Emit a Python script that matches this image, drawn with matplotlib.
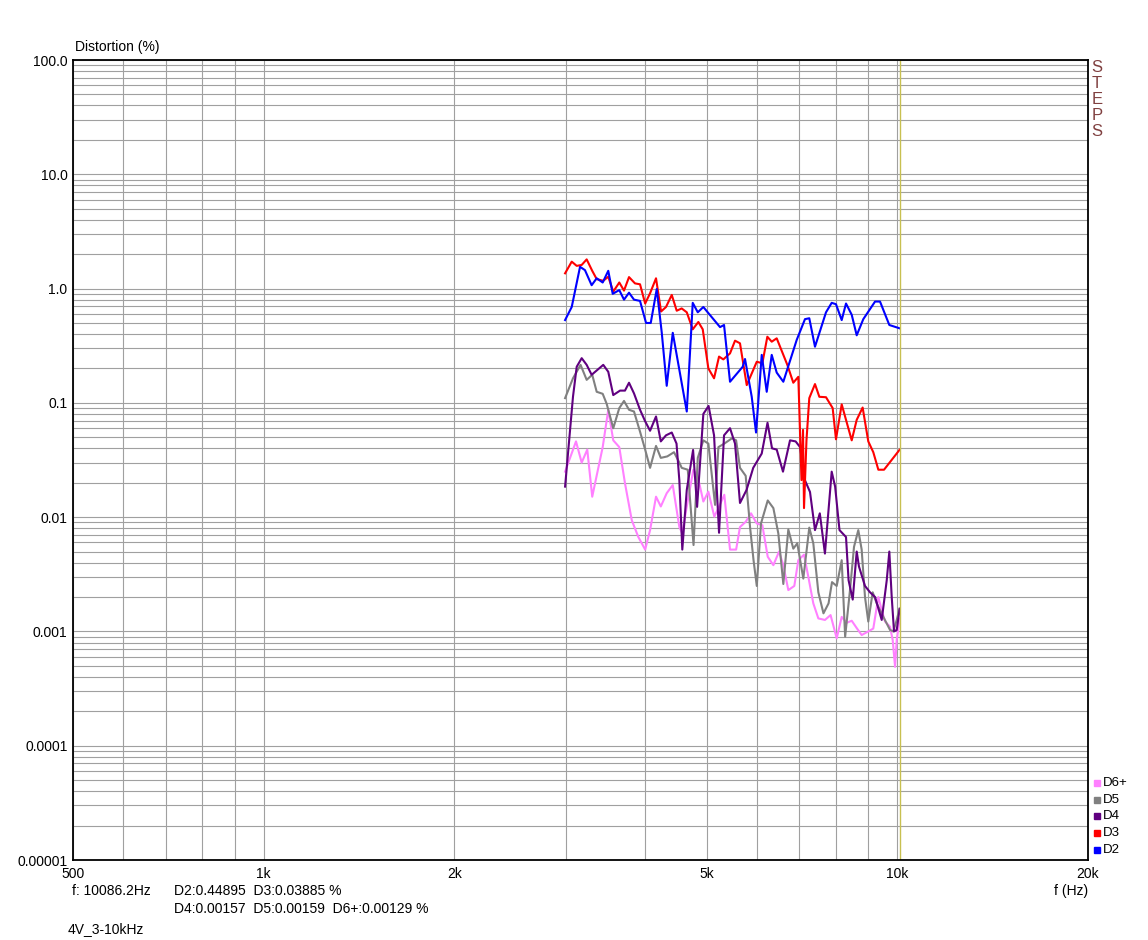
import matplotlib
matplotlib.use('Agg')
import matplotlib.pyplot as plt
from matplotlib.lines import Line2D
from matplotlib import rcParams
rcParams['font.family'] = ['Liberation Sans', 'DejaVu Sans']

W, H = 1148, 940

# harmonic distortion readings, f in Hz, level in %
d2_f = [2990, 3063, 3157, 3214, 3293, 3354, 3428, 3498, 3555, 3641, 3704, 3772, 3841, 3926,
        4013, 4082, 4172, 4249, 4326, 4422, 4653, 4755, 4843, 4942, 5033, 5251, 5328, 5445,
        5702, 5750, 5892, 5985, 6110, 6222, 6336, 6452, 6609, 6938, 7150, 7263, 7415, 7718,
        7879, 8003, 8171, 8300, 8474, 8629, 8838, 9224, 9392, 9715, 10086]
d2_v = [0.53, 0.69, 1.55, 1.45, 1.07, 1.23, 1.13, 1.43, 0.90, 0.97, 0.80, 0.92, 0.80, 0.78,
        0.50, 0.50, 0.99, 0.41, 0.141, 0.41, 0.084, 0.75, 0.62, 0.69, 0.61, 0.46, 0.48, 0.153,
        0.207, 0.242, 0.113, 0.055, 0.263, 0.125, 0.263, 0.184, 0.153, 0.355, 0.54, 0.55, 0.31, 0.62,
        0.75, 0.73, 0.53, 0.74, 0.59, 0.39, 0.54, 0.77, 0.77, 0.48, 0.449]

d3_f = [2990, 3063, 3119, 3176, 3234, 3300, 3354, 3435, 3498, 3562, 3641, 3704, 3772, 3855,
        3926, 4000, 4072, 4161, 4238, 4315, 4406, 4486, 4568, 4653, 4755, 4853, 4931, 5033,
        5138, 5232, 5314, 5445, 5545, 5646, 5786, 6001, 6124, 6236, 6336, 6452, 6706, 6853,
        6979, 7060, 7099, 7125, 7189, 7263, 7415, 7533, 7718, 7907, 8003, 8171, 8300, 8474,
        8629, 8817, 9000, 9165, 9335, 9530, 10086]
d3_v = [1.36, 1.72, 1.58, 1.61, 1.80, 1.43, 1.21, 1.17, 1.27, 0.94, 1.13, 0.96, 1.26, 1.11,
        1.09, 0.74, 0.91, 1.23, 0.63, 0.69, 0.88, 0.64, 0.67, 0.62, 0.44, 0.51, 0.44, 0.20,
        0.164, 0.254, 0.24, 0.271, 0.35, 0.332, 0.143, 0.229, 0.222, 0.379, 0.343, 0.367, 0.215, 0.15,
        0.169, 0.0211, 0.058, 0.012, 0.047, 0.110, 0.146, 0.113, 0.112, 0.090, 0.048, 0.097, 0.071, 0.047,
        0.071, 0.091, 0.046, 0.037, 0.026, 0.026, 0.0389]

d4_f = [2990, 3077, 3119, 3176, 3234, 3293, 3435, 3498, 3562, 3651, 3717, 3772, 3841, 3926,
        4000, 4072, 4161, 4234, 4315, 4406, 4483, 4529, 4578, 4653, 4761, 4831, 4942, 5037,
        5138, 5232, 5328, 5445, 5545, 5646, 5782, 5924, 6110, 6240, 6343, 6452, 6601, 6772,
        6911, 7023, 7150, 7282, 7415, 7546, 7688, 7879, 7978, 8106, 8300, 8378, 8505, 8629,
        8700, 8893, 9057, 9224, 9450, 9624, 9715, 9800, 9882, 9980, 10086]
d4_v = [0.0185, 0.113, 0.207, 0.246, 0.215, 0.176, 0.215, 0.187, 0.117, 0.128, 0.128, 0.150, 0.121, 0.087,
        0.069, 0.057, 0.076, 0.046, 0.052, 0.055, 0.044, 0.021, 0.0052, 0.0173, 0.0387, 0.0123, 0.080, 0.094,
        0.052, 0.0073, 0.052, 0.060, 0.044, 0.0133, 0.0173, 0.027, 0.036, 0.067, 0.040, 0.039, 0.025, 0.047,
        0.046, 0.041, 0.021, 0.0166, 0.0077, 0.0108, 0.0048, 0.025, 0.0185, 0.0077, 0.0067, 0.0028, 0.0019, 0.0050,
        0.0037, 0.0025, 0.0022, 0.0020, 0.00126, 0.0028, 0.0050, 0.0020, 0.0010, 0.00103, 0.00157]

d5_f = [2990, 3077, 3163, 3234, 3300, 3354, 3428, 3478, 3562, 3641, 3704, 3772, 3841, 3926,
        4000, 4072, 4161, 4234, 4335, 4442, 4529, 4568, 4670, 4769, 4843, 4942, 5033, 5157,
        5220, 5333, 5485, 5567, 5646, 5764, 5856, 5931, 6001, 6094, 6245, 6374, 6490, 6609,
        6730, 6853, 6953, 7107, 7263, 7370, 7506, 7647, 7790, 7888, 8024, 8171, 8274, 8421,
        8545, 8679, 8786, 8893, 9000, 9145, 9280, 9506, 9740, 9856, 9980, 10086]
d5_v = [0.110, 0.164, 0.215, 0.159, 0.176, 0.125, 0.120, 0.098, 0.060, 0.090, 0.104, 0.087, 0.084, 0.056,
        0.039, 0.027, 0.042, 0.033, 0.034, 0.037, 0.030, 0.027, 0.026, 0.0057, 0.033, 0.047, 0.044, 0.0128,
        0.041, 0.044, 0.049, 0.047, 0.027, 0.023, 0.0082, 0.0042, 0.0025, 0.0088, 0.014, 0.012, 0.0072, 0.0026,
        0.0078, 0.0053, 0.0059, 0.0029, 0.0081, 0.0059, 0.0022, 0.00144, 0.00176, 0.0027, 0.0025, 0.0042, 0.0009, 0.0023,
        0.0055, 0.0077, 0.0052, 0.0020, 0.00122, 0.0022, 0.00176, 0.00134, 0.00103, 0.0010, 0.00126, 0.00159]

d6_f = [2990, 3111, 3176, 3241, 3300, 3428, 3498, 3562, 3641, 3717, 3810, 3902, 4000, 4072,
        4161, 4234, 4326, 4422, 4529, 4578, 4653, 4766, 4843, 4942, 5033, 5143, 5220, 5333,
        5445, 5567, 5646, 5764, 5877, 6001, 6124, 6245, 6374, 6507, 6609, 6730, 6878, 6979,
        7125, 7238, 7370, 7506, 7688, 7847, 8024, 8171, 8321, 8474, 8629, 8786, 9000, 9165,
        9335, 9450, 9565, 9740, 9835, 9920, 9980, 10086]
d6_v = [0.025, 0.046, 0.030, 0.039, 0.0151, 0.041, 0.087, 0.047, 0.041, 0.0198, 0.0094, 0.0067, 0.0052, 0.0077,
        0.0151, 0.0124, 0.0162, 0.0191, 0.0082, 0.0072, 0.0124, 0.026, 0.0226, 0.0137, 0.0167, 0.0101, 0.012, 0.0157,
        0.0052, 0.0052, 0.0082, 0.0091, 0.0108, 0.0088, 0.0085, 0.0045, 0.0038, 0.0050, 0.0038, 0.0023, 0.0025, 0.0042,
        0.0047, 0.0030, 0.00176, 0.0013, 0.00126, 0.00139, 0.00087, 0.00134, 0.00119, 0.00124, 0.00107, 0.00093, 0.0010, 0.00106,
        0.0020, 0.00154, 0.00122, 0.0011, 0.00084, 0.00049, 0.00084, 0.00129]

names = ['D6+', 'D5', 'D4', 'D3', 'D2']
colors = ['#ff80ff', '#808080', '#600080', '#ff0000', '#0000ff']
series = [(d6_f, d6_v), (d5_f, d5_v), (d4_f, d4_v), (d3_f, d3_v), (d2_f, d2_v)]

cursor_f = 10086.2

x_major = [500, 1000, 2000, 5000, 10000, 20000]
x_labels = ['500', '1k', '2k', '5k', '10k', '20k']
x_minor = [600, 700, 800, 900, 3000, 4000, 6000, 7000, 8000, 9000]
y_major = [1e-5, 1e-4, 1e-3, 1e-2, 1e-1, 1, 10, 100]
y_labels = ['0.00001', '0.0001', '0.001', '0.01', '0.1', '1.0', '10.0', '100.0']
y_minor = [k * 10.0 ** e for e in range(-5, 2) for k in range(2, 10)]


def px(x, y):
    return x / W, 1 - y / H


fig = plt.figure(figsize=(W / 100, H / 100), dpi=100)
ax = fig.add_axes([73 / W, 1 - 860 / H, (1088 - 73) / W, 800 / H])
ax.set_xscale('log')
ax.set_yscale('log')
ax.set_xlim(500, 20000)
ax.set_ylim(1e-5, 100)

ax.set_xticks(x_major)
ax.set_xticklabels(x_labels)
ax.set_xticks(x_minor, minor=True)
ax.set_xticklabels([], minor=True)
ax.set_yticks(y_major)
ax.set_yticklabels(y_labels)
ax.set_yticks(y_minor, minor=True)
ax.set_yticklabels([], minor=True)
ax.tick_params(which='both', length=0, labelsize=10)
ax.tick_params(axis='x', pad=5)
ax.tick_params(axis='y', pad=4)
ax.grid(which='both', color='#a0a0a0', lw=0.8)
ax.set_axisbelow(True)
for s in ax.spines.values():
    s.set_linewidth(1.3)

for (f, v), c in zip(series, colors):
    ax.plot(f, v, color=c, lw=1.5)

ax.axvline(cursor_f, color='#c8c050', lw=1)

fig.text(*px(75, 47), 'Distortion (%)', fontsize=10, va='center', ha='left')
fig.text(*px(1088, 891), 'f (Hz)', fontsize=10, va='center', ha='right')
fig.text(*px(72, 891), 'f: 10086.2Hz', fontsize=10, va='center')
fig.text(*px(174, 891), 'D2:0.44895  D3:0.03885 %', fontsize=10, va='center')
fig.text(*px(174, 909), 'D4:0.00157  D5:0.00159  D6+:0.00129 %', fontsize=10, va='center')
fig.text(*px(68, 929), '4V_3-10kHz', fontsize=10, va='center')

for i, ch in enumerate('STEPS'):
    fig.text(*px(1097, 68 + i * 16), ch, fontsize=12, color='#804040',
             ha='center', va='center')

for i, (n, c) in enumerate(zip(names, colors)):
    yy = 783 + i * 16.7
    fig.add_artist(Line2D([1097 / W], [1 - yy / H], marker='s', ms=5, color=c,
                          mec=c, transform=fig.transFigure))
    fig.text(*px(1103, yy), n, fontsize=9.5, va='center')

fig.savefig('out.png', dpi=100)
